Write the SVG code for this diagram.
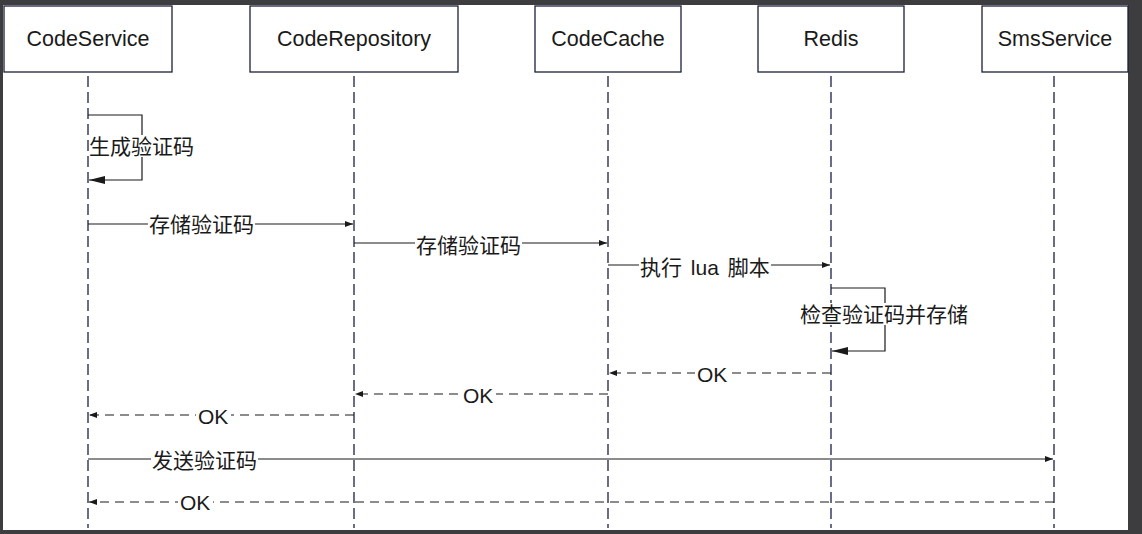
<svg xmlns="http://www.w3.org/2000/svg" width="1142" height="534" viewBox="0 0 1142 534">
<style>
.box{fill:#fff;stroke:#1b1f3b;stroke-width:1.3}
.hd{font-family:"Liberation Sans","Noto Sans CJK SC",sans-serif;font-size:21.5px;fill:#1a1a1a;text-anchor:middle;dominant-baseline:central}
.life{stroke:#1b1f4a;stroke-width:1.3;stroke-dasharray:11 5;fill:none}
.msg{stroke:#1a1a1a;stroke-width:1.2;fill:none}
.ret{stroke:#1a1a1a;stroke-width:1.2;fill:none;stroke-dasharray:9 6}
.lbl{font-family:"Liberation Sans","Noto Sans CJK SC",sans-serif;font-size:21px;fill:#1a1a1a;dominant-baseline:central}
.bg{fill:#fff}
</style>
<defs>
<marker id="ah" viewBox="0 0 8 6" refX="8" refY="3" markerWidth="8" markerHeight="6" markerUnits="userSpaceOnUse" orient="auto"><path d="M0,0 L8,3 L0,6 Z" fill="#1a1a1a"/></marker>
<marker id="ahb" viewBox="0 0 16 8" refX="16" refY="4" markerWidth="16" markerHeight="8" markerUnits="userSpaceOnUse" orient="auto"><path d="M0,0 L16,4 L0,8 Z" fill="#1a1a1a"/></marker>
</defs>
<rect x="0" y="0" width="1142" height="534" fill="#3d3d3f"/>
<rect x="3" y="5" width="1125" height="525" fill="#fff"/>
<g id="lifelines">
<line class="life" x1="88" y1="76" x2="88" y2="528"/>
<line class="life" x1="354" y1="76" x2="354" y2="528"/>
<line class="life" x1="608" y1="76" x2="608" y2="528"/>
<line class="life" x1="831" y1="76" x2="831" y2="528"/>
<line class="life" x1="1054" y1="76" x2="1054" y2="528"/>
</g>
<g id="CodeService"><rect class="box" x="4" y="6" width="168" height="66"/><text class="hd" x="88" y="39">CodeService</text></g>
<g id="CodeRepository"><rect class="box" x="250" y="6" width="208" height="66"/><text class="hd" x="354" y="39">CodeRepository</text></g>
<g id="CodeCache"><rect class="box" x="535" y="6" width="146" height="66"/><text class="hd" x="608" y="39">CodeCache</text></g>
<g id="Redis"><rect class="box" x="758" y="6" width="146" height="66"/><text class="hd" x="831" y="39">Redis</text></g>
<g id="SmsService"><rect class="box" x="982" y="6" width="146" height="66"/><text class="hd" x="1055" y="39">SmsService</text></g>
<g id="connectors">
<path class="msg" d="M88,115 H142 V180 H89" marker-end="url(#ahb)"/>
<rect class="bg" x="89" y="135" width="107" height="22"/>
<text class="lbl" x="89" y="146">生成验证码</text>
<line class="msg" x1="88" y1="224" x2="353" y2="224" stroke-width="2" marker-end="url(#ah)"/>
<rect class="bg" x="148" y="213" width="107" height="22"/>
<text class="lbl" x="149" y="224">存储验证码</text>
<line class="msg" x1="354" y1="243" x2="607" y2="243" marker-end="url(#ah)"/>
<rect class="bg" x="415" y="233" width="107" height="22"/>
<text class="lbl" x="416" y="245">存储验证码</text>
<line class="msg" x1="608" y1="265" x2="830" y2="265" marker-end="url(#ah)"/>
<rect class="bg" x="639" y="255" width="132" height="22"/>
<text class="lbl" x="640" y="267" word-spacing="3">执行 lua 脚本</text>
<path class="msg" d="M831,288 H885 V351 H832" marker-end="url(#ahb)"/>
<rect class="bg" x="799" y="303" width="172" height="22"/>
<text class="lbl" x="800" y="314">检查验证码并存储</text>
<line class="ret" x1="831" y1="373" x2="609" y2="373" marker-end="url(#ah)"/>
<rect class="bg" x="695" y="363" width="35" height="22"/>
<text class="lbl" x="697" y="374">OK</text>
<line class="ret" x1="608" y1="394" x2="355" y2="394" marker-end="url(#ah)"/>
<rect class="bg" x="461" y="384" width="35" height="22"/>
<text class="lbl" x="463" y="395">OK</text>
<line class="ret" x1="354" y1="415" x2="89" y2="415" marker-end="url(#ah)"/>
<rect class="bg" x="196" y="405" width="35" height="22"/>
<text class="lbl" x="198" y="416">OK</text>
<line class="msg" x1="88" y1="459" x2="1053" y2="459" marker-end="url(#ah)"/>
<rect class="bg" x="151" y="449" width="107" height="22"/>
<text class="lbl" x="152" y="460">发送验证码</text>
<line class="ret" x1="1054" y1="502" x2="89" y2="502" marker-end="url(#ah)"/>
<rect class="bg" x="178" y="492" width="35" height="22"/>
<text class="lbl" x="180" y="502">OK</text>
</g>
</svg>
